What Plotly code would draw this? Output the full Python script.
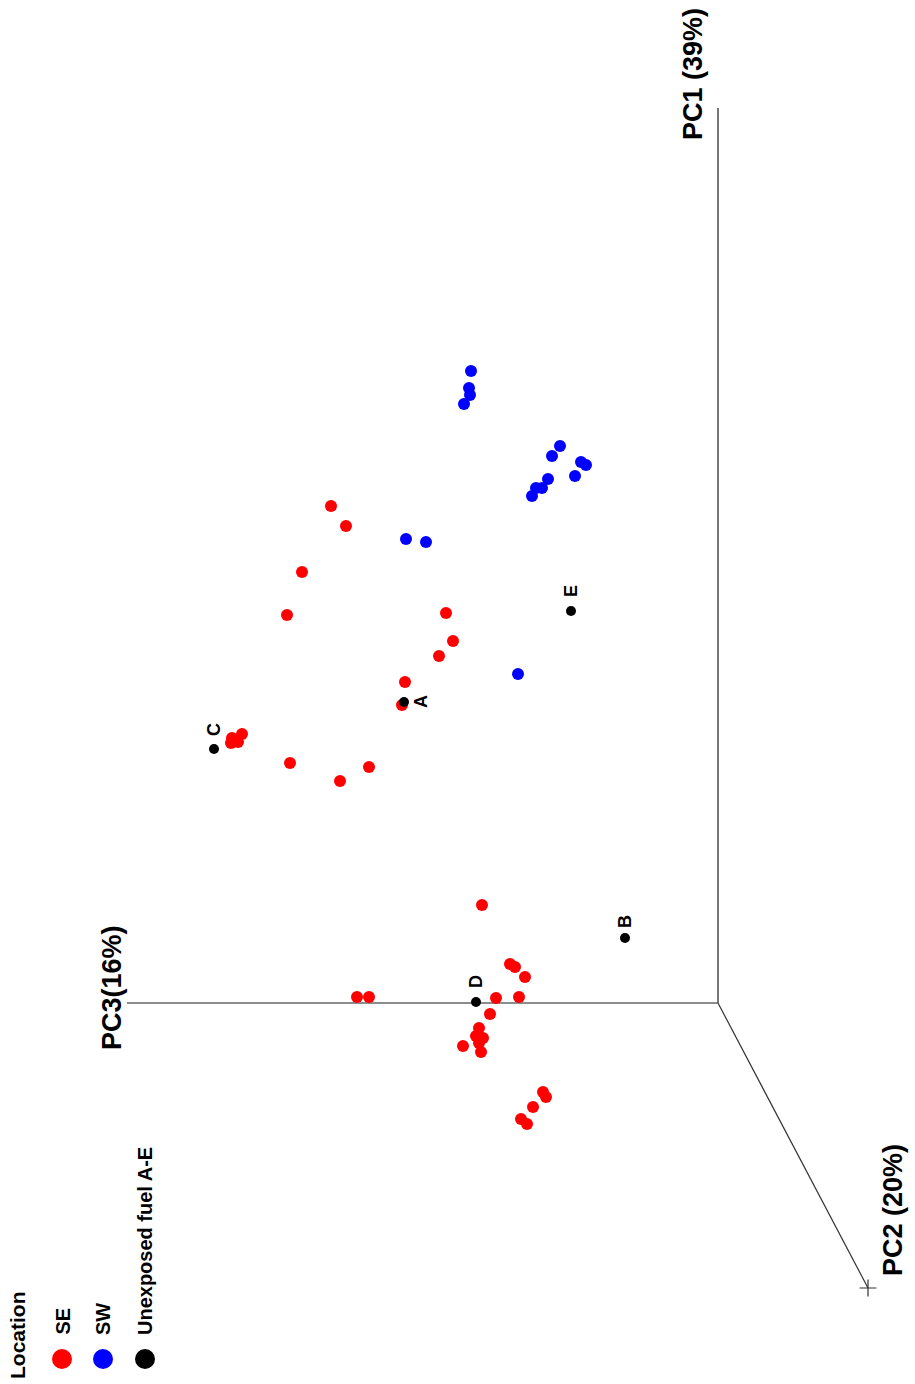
import plotly.graph_objects as go

# Projected PCA scores (horizontal, vertical position in the rotated projection)
se_h = [331, 346, 302, 287, 446, 453, 439, 405, 402, 242, 232, 238, 231, 290, 369, 340,
        482, 510, 515, 525, 519, 496, 357, 369, 490, 479, 476, 483, 479, 463, 481,
        543, 546, 533, 521, 527]
se_v = [506, 526, 572, 615, 613, 641, 656, 682, 705, 734, 738, 742, 743, 763, 767, 781,
        905, 964, 967, 977, 997, 998, 997, 997, 1014, 1028, 1036, 1038, 1043, 1046, 1052,
        1092, 1097, 1107, 1119, 1124]

sw_h = [471, 469, 470, 464, 560, 552, 581, 586, 575, 548, 536, 542, 532, 406, 426, 518]
sw_v = [371, 388, 395, 404, 446, 456, 462, 465, 476, 479, 488, 488, 496, 539, 542, 674]

fuel_labels = ["A", "B", "C", "D", "E"]
fuel_h = [404, 625, 214, 476, 571]
fuel_v = [702, 938, 749, 1002, 611]

# 3D axis projection: origin and axis ends
axis_origin = (718, 1003)
pc1_end = (718, 108)
pc3_end = (127, 1003)
pc2_end = (868, 1288)
axis_names = ["PC1 (39%)", "PC3(16%)", "PC2 (20%)"]

legend_names = ["SE", "SW", "Unexposed fuel A-E"]
legend_colors = ["#ff0000", "#0000ff", "#000000"]

FONT = "Liberation Sans, Arial, sans-serif"

fig = go.Figure()

# axes
fig.add_trace(go.Scatter(x=[axis_origin[0], pc1_end[0]], y=[axis_origin[1], pc1_end[1]],
                         mode="lines", line=dict(color="#555555", width=1.6),
                         hoverinfo="skip", showlegend=False))
fig.add_trace(go.Scatter(x=[axis_origin[0], pc3_end[0]], y=[axis_origin[1], pc3_end[1]],
                         mode="lines", line=dict(color="#666666", width=1.6),
                         hoverinfo="skip", showlegend=False))
fig.add_trace(go.Scatter(x=[axis_origin[0], pc2_end[0]], y=[axis_origin[1], pc2_end[1]],
                         mode="lines", line=dict(color="#333333", width=1.2),
                         hoverinfo="skip", showlegend=False))
fig.add_trace(go.Scatter(x=[pc2_end[0]], y=[pc2_end[1]], mode="markers",
                         marker=dict(symbol="cross-thin", size=12,
                                     line=dict(color="#333333", width=1.2)),
                         hoverinfo="skip", showlegend=False))

# data points
fig.add_trace(go.Scatter(x=se_h, y=se_v, mode="markers", name="SE",
                         marker=dict(color="#ff0000", size=12), showlegend=False))
fig.add_trace(go.Scatter(x=sw_h, y=sw_v, mode="markers", name="SW",
                         marker=dict(color="#0000ff", size=12), showlegend=False))
fig.add_trace(go.Scatter(x=fuel_h, y=fuel_v, mode="markers", name="Unexposed fuel A-E",
                         marker=dict(color="#000000", size=10), showlegend=False))

annotations = []
# point labels (rotated)
label_offsets = {"A": (17, 0), "B": (0, -16), "C": (0, -19), "D": (0, -20), "E": (0, -20)}
for lab, h, v in zip(fuel_labels, fuel_h, fuel_v):
    dx, dy = label_offsets[lab]
    annotations.append(dict(x=h + dx, y=v + dy, text=f"<b>{lab}</b>", showarrow=False,
                            textangle=-90, font=dict(family=FONT, size=18, color="black"),
                            xanchor="center", yanchor="middle"))

# axis labels
axis_font = dict(family=FONT, size=27, color="black")
annotations.append(dict(x=pc1_end[0] - 25, y=pc1_end[1] - 34, text=f"<b>{axis_names[0]}</b>",
                        showarrow=False, textangle=-90, font=axis_font,
                        xanchor="center", yanchor="middle"))
annotations.append(dict(x=pc3_end[0] - 15, y=pc3_end[1] - 15, text=f"<b>{axis_names[1]}</b>",
                        showarrow=False, textangle=-90, font=axis_font,
                        xanchor="center", yanchor="middle"))
annotations.append(dict(x=pc2_end[0] + 25, y=pc2_end[1] - 78, text=f"<b>{axis_names[2]}</b>",
                        showarrow=False, textangle=-90, font=axis_font,
                        xanchor="center", yanchor="middle"))

# legend (rotated)
legend_h = [62, 103, 145]
fig.add_trace(go.Scatter(x=legend_h, y=[1359] * 3, mode="markers",
                         marker=dict(color=legend_colors, size=20),
                         hoverinfo="skip", showlegend=False))
annotations.append(dict(x=17, y=1381, text="<b>Location</b>", showarrow=False, textangle=-90,
                        font=dict(family=FONT, size=21, color="black"),
                        xanchor="center", yanchor="bottom"))
for h, name in zip(legend_h, legend_names):
    annotations.append(dict(x=h, y=1337, text=f"<b>{name}</b>", showarrow=False, textangle=-90,
                            font=dict(family=FONT, size=20, color="black"),
                            xanchor="center", yanchor="bottom"))

fig.update_layout(
    width=915, height=1384,
    margin=dict(l=0, r=0, t=0, b=0),
    paper_bgcolor="white", plot_bgcolor="white",
    xaxis=dict(range=[0, 915], visible=False, fixedrange=True),
    yaxis=dict(range=[1384, 0], visible=False, fixedrange=True),
    annotations=annotations,
)

fig.write_html("out.html")
